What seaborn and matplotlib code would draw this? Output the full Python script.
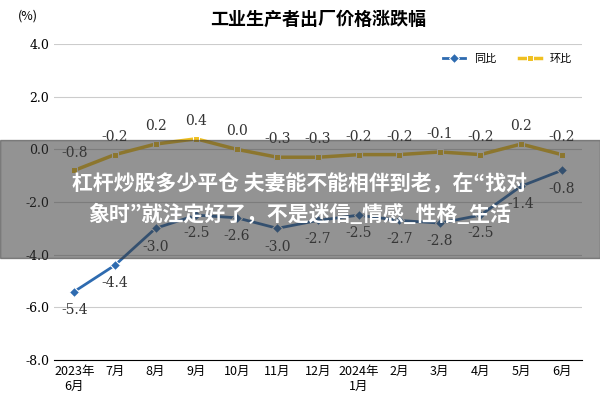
import matplotlib
matplotlib.use("Agg")
from matplotlib import pyplot as plt
import seaborn as sns
import pandas as pd

plt.rcParams['font.family'] = ['Noto Sans CJK JP', 'Noto Sans CJK SC', 'DejaVu Sans']

# data
months = ['2023年\n6月', '7月', '8月', '9月', '10月', '11月', '12月',
          '2024年\n1月', '2月', '3月', '4月', '5月', '6月']
yoy = [-5.4, -4.4, -3.0, -2.5, -2.6, -3.0, -2.7, -2.5, -2.7, -2.8, -2.5, -1.4, -0.8]
mom = [-0.8, -0.2, 0.2, 0.4, 0.0, -0.3, -0.3, -0.2, -0.2, -0.1, -0.2, 0.2, -0.2]

df = pd.DataFrame({'x': range(len(months)), '同比': yoy, '环比': mom})

fig, ax = plt.subplots(figsize=(6, 4), dpi=100)
fig.subplots_adjust(left=0.09, right=0.97, top=0.89, bottom=0.1)

sns.lineplot(data=df, x='x', y='同比', ax=ax, color='#2e6bb0', marker='D',
             markersize=5, linewidth=2, label='同比')
sns.lineplot(data=df, x='x', y='环比', ax=ax, color='#f0c020', marker='s',
             markersize=5, linewidth=2.5, label='环比')

for i, v in enumerate(yoy):
    ax.annotate(f'{v:.1f}', (i, v), xytext=(0, -16), textcoords='offset points',
                ha='center', fontsize=10, family='serif', color='#333333')
for i, v in enumerate(mom):
    ax.annotate(f'{v:.1f}', (i, v), xytext=(0, 10), textcoords='offset points',
                ha='center', fontsize=10, family='serif', color='#333333')

ax.set_ylim(-8, 4)
ax.set_yticks(range(-8, 5, 2))
ax.set_yticklabels([f'{t:.1f}' for t in range(-8, 5, 2)], fontsize=9, family='serif')
ax.set_xlim(-0.5, len(months) - 0.5)
ax.set_xticks(range(len(months)))
ax.set_xticklabels(months, fontsize=9)
ax.set_xlabel('')
ax.set_ylabel('')
ax.grid(axis='y', color='#cccccc', linewidth=0.8)
for s in ['top', 'right', 'left']:
    ax.spines[s].set_visible(False)
ax.tick_params(length=0)
ax.set_title('工业生产者出厂价格涨跌幅', fontsize=13, fontweight='bold', pad=14)
fig.text(0.03, 0.95, '(%)', fontsize=9)
ax.legend(loc='upper right', ncol=2, frameon=False, fontsize=8)

# overlay banner
fig.patches.append(plt.Rectangle((0, 0.355), 1, 0.295, transform=fig.transFigure,
                                 color='#3a3a3a', alpha=0.55, zorder=5))
fig.text(0.5, 0.502, '杠杆炒股多少平仓 夫妻能不能相伴到老，在“找对\n象时”就注定好了，不是迷信_情感_性格_生活',
         ha='center', va='center', color='white', fontsize=15,
         fontweight='bold', linespacing=1.6, zorder=6)

fig.savefig('out.png')
